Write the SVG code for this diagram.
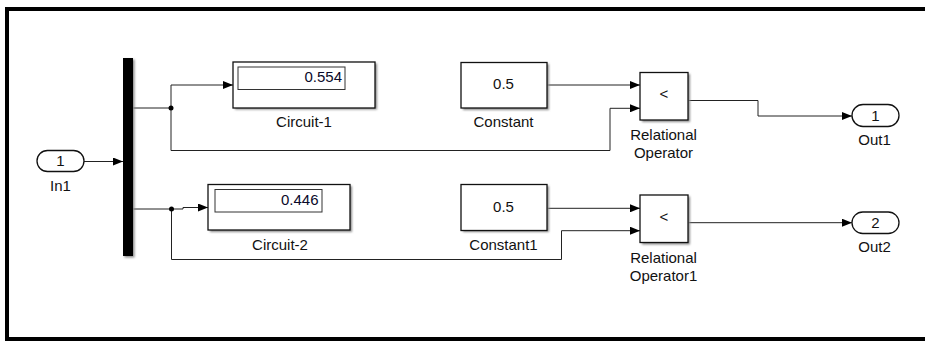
<svg xmlns="http://www.w3.org/2000/svg" width="925" height="341" viewBox="0 0 925 341">
  <defs>
    <marker id="arr" viewBox="0 0 10 8" refX="10" refY="4" markerWidth="10" markerHeight="8" markerUnits="userSpaceOnUse" orient="auto">
      <path d="M0,0 L10,4 L0,8 Z" fill="#000"/>
    </marker>
    <filter id="sh" x="-10%" y="-10%" width="130%" height="130%">
      <feGaussianBlur stdDeviation="0.8"/>
    </filter>
  </defs>
  <style>
    text { font-family: "Liberation Sans", Arial, sans-serif; font-size: 15px; fill: #111; }
    .c { text-anchor: middle; }
    .r { text-anchor: end; }
    .blk { fill: #fff; stroke: #111; stroke-width: 1.3; }
    .shd { fill: #8a8a8a; filter: url(#sh); }
    .disp { fill: #fff; stroke: #333; stroke-width: 1; }
    .port { fill: #fff; stroke: #111; stroke-width: 1.3; }
    .wire { fill: none; stroke: #222; stroke-width: 1; }
    .arrow { marker-end: url(#arr); }
  </style>

  <rect width="925" height="341" fill="#fff"/>
  <!-- canvas frame -->
  <path d="M925,9 H7 V339 H925" fill="none" stroke="#000" stroke-width="4"/>

  <!-- connectors -->
  <g id="connectors">
    <path class="wire arrow" d="M84,161.5 H123"/>
    <path class="wire" d="M133,108 H171"/>
    <path class="wire arrow" d="M171,108 V85 H233"/>
    <path class="wire arrow" d="M171,108 V150.5 H610 V108.3 H640"/>
    <path class="wire arrow" d="M547,85 H640"/>
    <path class="wire arrow" d="M688,100.5 H758 V116 H852"/>
    <path class="wire" d="M133,209 H171.5"/>
    <path class="wire arrow" d="M171.5,209 H183 V207.5 H208"/>
    <path class="wire arrow" d="M171.5,209 V259.5 H561.5 V230.7 H640"/>
    <path class="wire arrow" d="M547,208.3 H640"/>
    <path class="wire arrow" d="M688,222.7 H852"/>
    <circle cx="171" cy="108" r="2.5" fill="#000"/>
    <circle cx="171.5" cy="209" r="2.5" fill="#000"/>
  </g>

  <!-- inport -->
  <g id="In1">
    <rect x="37" y="150.5" width="47" height="21" rx="10.5" class="port"/>
    <text x="60.5" y="166" class="c">1</text>
    <text x="60.5" y="191" class="c">In1</text>
  </g>

  <!-- bus selector bar -->
  <g id="Bus">
    <rect x="124.5" y="59.5" width="10" height="198" class="shd"/>
    <rect x="123" y="58" width="10" height="198" fill="#000"/>
  </g>

  <!-- display blocks -->
  <g id="Circuit-1">
    <rect x="235" y="63.5" width="142" height="46" class="shd"/>
    <rect x="233" y="62" width="142" height="46" class="blk"/>
    <rect x="238" y="67" width="107" height="22.5" class="disp"/>
    <text x="342" y="81.7" class="r" style="fill:#0a0a2a">0.554</text>
    <text x="304" y="127" class="c">Circuit-1</text>
  </g>
  <g id="Circuit-2">
    <rect x="210" y="186" width="142" height="46" class="shd"/>
    <rect x="208" y="184.5" width="142" height="45.5" class="blk"/>
    <rect x="215" y="189.5" width="107" height="22.5" class="disp"/>
    <text x="318.5" y="205" class="r" style="fill:#0a0a2a">0.446</text>
    <text x="280" y="250" class="c">Circuit-2</text>
  </g>

  <!-- constants -->
  <g id="Constant">
    <rect x="463" y="64" width="86" height="46" class="shd"/>
    <rect x="461" y="62.5" width="86" height="45.5" class="blk"/>
    <text x="503.5" y="89.3" class="c">0.5</text>
    <text x="503.5" y="127" class="c">Constant</text>
  </g>
  <g id="Constant1">
    <rect x="463" y="186" width="86" height="46" class="shd"/>
    <rect x="461" y="184.5" width="86" height="46" class="blk"/>
    <text x="503.5" y="211.5" class="c">0.5</text>
    <text x="503.5" y="250" class="c">Constant1</text>
  </g>

  <!-- relational operators -->
  <g id="RelationalOperator">
    <rect x="642" y="74" width="48" height="48" class="shd"/>
    <rect x="640" y="72.5" width="48" height="47.5" class="blk"/>
    <text x="664" y="99" class="c">&lt;</text>
    <text x="663.5" y="139.5" class="c">Relational</text>
    <text x="663.5" y="157.5" class="c">Operator</text>
  </g>
  <g id="RelationalOperator1">
    <rect x="642" y="196.5" width="48" height="48" class="shd"/>
    <rect x="640" y="195" width="48" height="47.5" class="blk"/>
    <text x="664" y="221.5" class="c">&lt;</text>
    <text x="663.5" y="262.5" class="c">Relational</text>
    <text x="663.5" y="280.5" class="c">Operator1</text>
  </g>

  <!-- outports -->
  <g id="Out1">
    <rect x="852" y="104.5" width="47" height="22" rx="11" class="port"/>
    <text x="875.5" y="120.5" class="c">1</text>
    <text x="874.5" y="145" class="c">Out1</text>
  </g>
  <g id="Out2">
    <rect x="852" y="212" width="47" height="21.5" rx="10.75" class="port"/>
    <text x="875.5" y="228" class="c">2</text>
    <text x="874.5" y="251.5" class="c">Out2</text>
  </g>
</svg>
